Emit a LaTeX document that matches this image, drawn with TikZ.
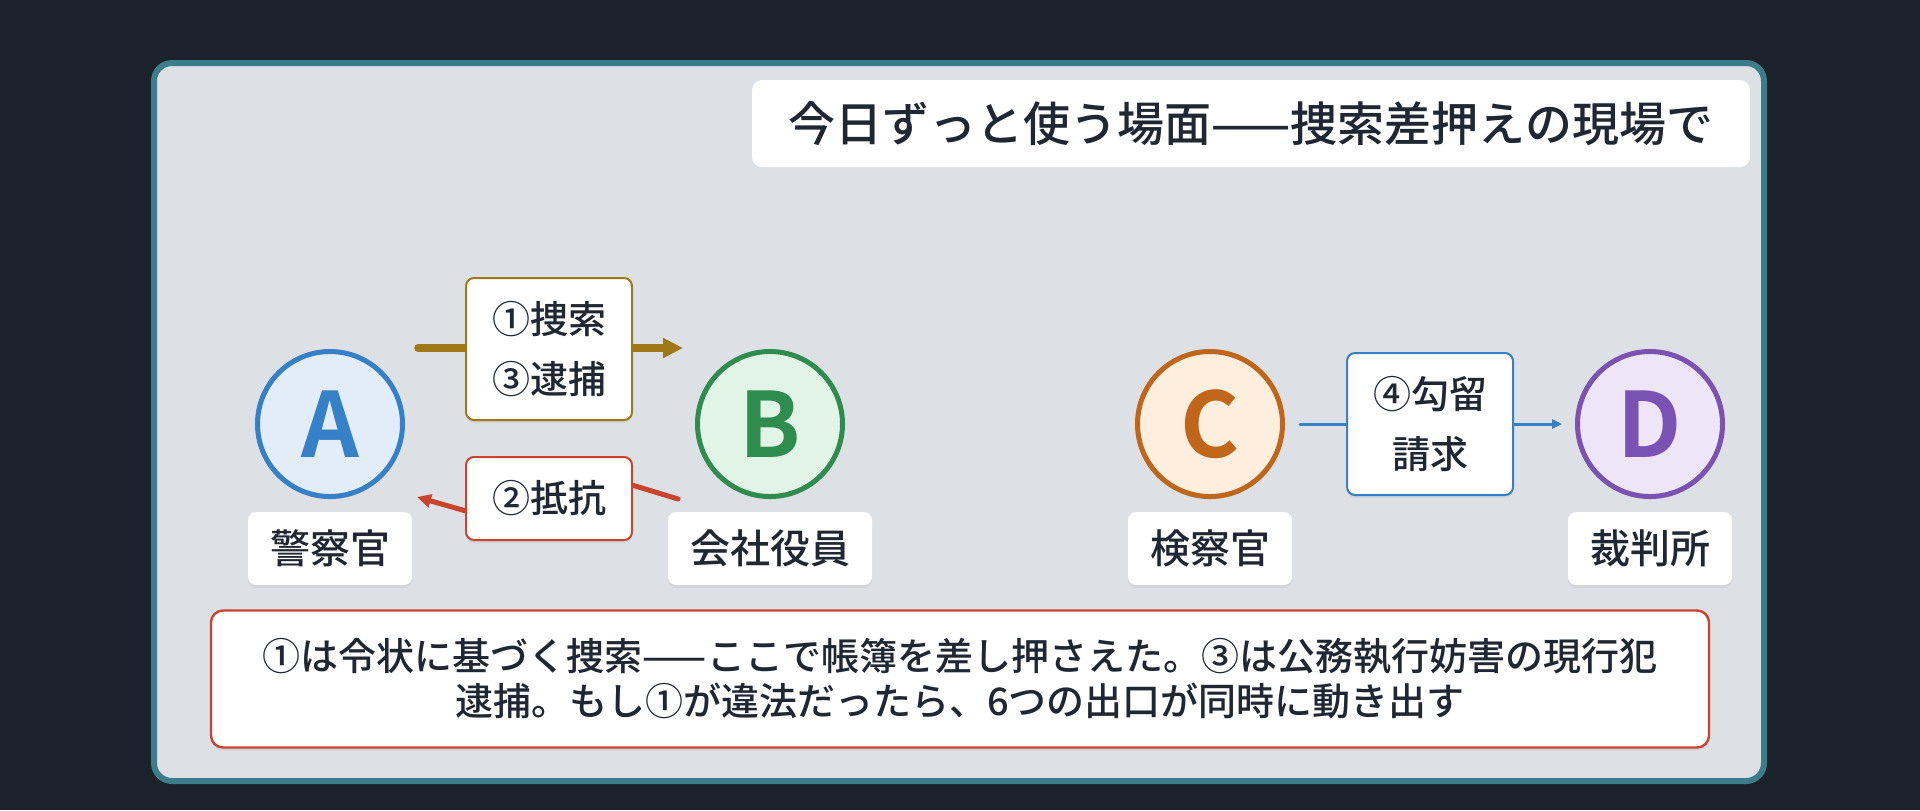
\documentclass[tikz,border=0pt]{standalone}
\usepackage{fontspec}
\setmainfont{Noto Sans CJK JP}[BoldFont={Noto Sans CJK JP Medium}]
\newfontfamily\partyfont{Noto Sans CJK JP Bold}
\usepackage{tikz}
\usetikzlibrary{arrows.meta,calc,shadows}
\definecolor{bgdark}{HTML}{1C222C}
\definecolor{frameteal}{HTML}{3D7D8B}
\definecolor{framefill}{HTML}{DDE0E5}
\definecolor{inkdark}{HTML}{1F2733}
\definecolor{policeblue}{HTML}{3580C6}
\definecolor{policefill}{HTML}{E3EDFA}
\definecolor{officergreen}{HTML}{2E8C4F}
\definecolor{officerfill}{HTML}{E2F4E6}
\definecolor{prosecorange}{HTML}{C0661B}
\definecolor{prosecfill}{HTML}{FDEEDD}
\definecolor{courtpurple}{HTML}{7A52B4}
\definecolor{courtfill}{HTML}{EEE5F8}
\definecolor{searchgold}{HTML}{A07818}
\definecolor{resistred}{HTML}{C9432D}

\begin{document}
\begin{tikzpicture}[x=0.5pt,y=-0.5pt,
  softshadow/.style={drop shadow={opacity=.12,shadow xshift=0pt,shadow yshift=-1.5pt}},
  party/.style n args={2}{circle,draw=#1,fill=#2,text=#1,line width=2.5pt,minimum size=72.5pt,
    inner sep=0pt,font=\fontsize{45pt}{45pt}\selectfont\partyfont,softshadow},
  rolebox/.style={rectangle,rounded corners=4pt,fill=white,text=inkdark,minimum height=36.5pt,
    inner xsep=11pt,font=\fontsize{20pt}{24pt}\selectfont\bfseries,softshadow},
  actbox/.style={rectangle,rounded corners=4pt,draw=#1,line width=1pt,fill=white,text=inkdark,
    minimum width=83pt,align=center,font=\fontsize{19pt}{30pt}\selectfont\bfseries,softshadow},
  act/.style={draw=#1,line cap=round}]

% background and frame
\fill[bgdark] (0,0) rectangle (1920,810);
\draw[frameteal,fill=framefill,line width=3pt,rounded corners=9pt] (154,63) rectangle (1764,781);

% title
\node[rectangle,rounded corners=5pt,fill=white,text=inkdark,minimum width=499pt,minimum height=43.5pt,
  font=\fontsize{23.5pt}{28pt}\selectfont\bfseries] (title) at (1251,123.5) {今日ずっと使う場面——捜索差押えの現場で};

% parties
\node[party={policeblue}{policefill}] (A) at (330,424) {A};
\node[party={officergreen}{officerfill}] (B) at (770,424) {B};
\node[party={prosecorange}{prosecfill}] (C) at (1210,424) {C};
\node[party={courtpurple}{courtfill}] (D) at (1650,424) {D};

\node[rolebox] (Alabel) at (330,548.5) {警察官};
\node[rolebox] (Blabel) at (770,548.5) {会社役員};
\node[rolebox] (Clabel) at (1210,548.5) {検察官};
\node[rolebox] (Dlabel) at (1650,548.5) {裁判所};

% connectors
\draw[act=searchgold,line width=3.75pt,-{Triangle[length=10pt,width=9.5pt]}] ($(A)+(88,-76)$) -- ($(B)+(-87,-76)$);
\draw[act=resistred,line width=2.5pt,-{Triangle[length=7pt,width=6.5pt]}] ($(B)+(-92,75)$) -- ($(B)+(-138,61)$) -- ($(A)+(136,87)$) -- ($(A)+(87,73)$);
\draw[act=policeblue,line width=1.5pt,-{Triangle[length=5pt,width=4.5pt]}] ($(C)+(90,0)$) -- ($(D)+(-88,0)$);

% labels on connectors
\node[actbox=searchgold,minimum height=71pt] (search) at (549,349) {①捜索\\③逮捕};
\node[actbox=resistred,minimum height=41.5pt] (resist) at (549,498.5) {②抵抗};
\node[actbox=policeblue,minimum height=71pt] (detain) at (1430,424) {④勾留\\請求};

% note
\node[rectangle,rounded corners=6pt,draw=resistred,line width=1.2pt,fill=white,text=inkdark,
  minimum width=749pt,minimum height=68.5pt,align=center,
  font=\fontsize{19pt}{22.5pt}\selectfont\bfseries,softshadow] (note) at (960,679)
  {①は令状に基づく捜索——ここで帳簿を差し押さえた。③は公務執行妨害の現行犯\\逮捕。もし①が違法だったら、6つの出口が同時に動き出す};
\end{tikzpicture}
\end{document}
